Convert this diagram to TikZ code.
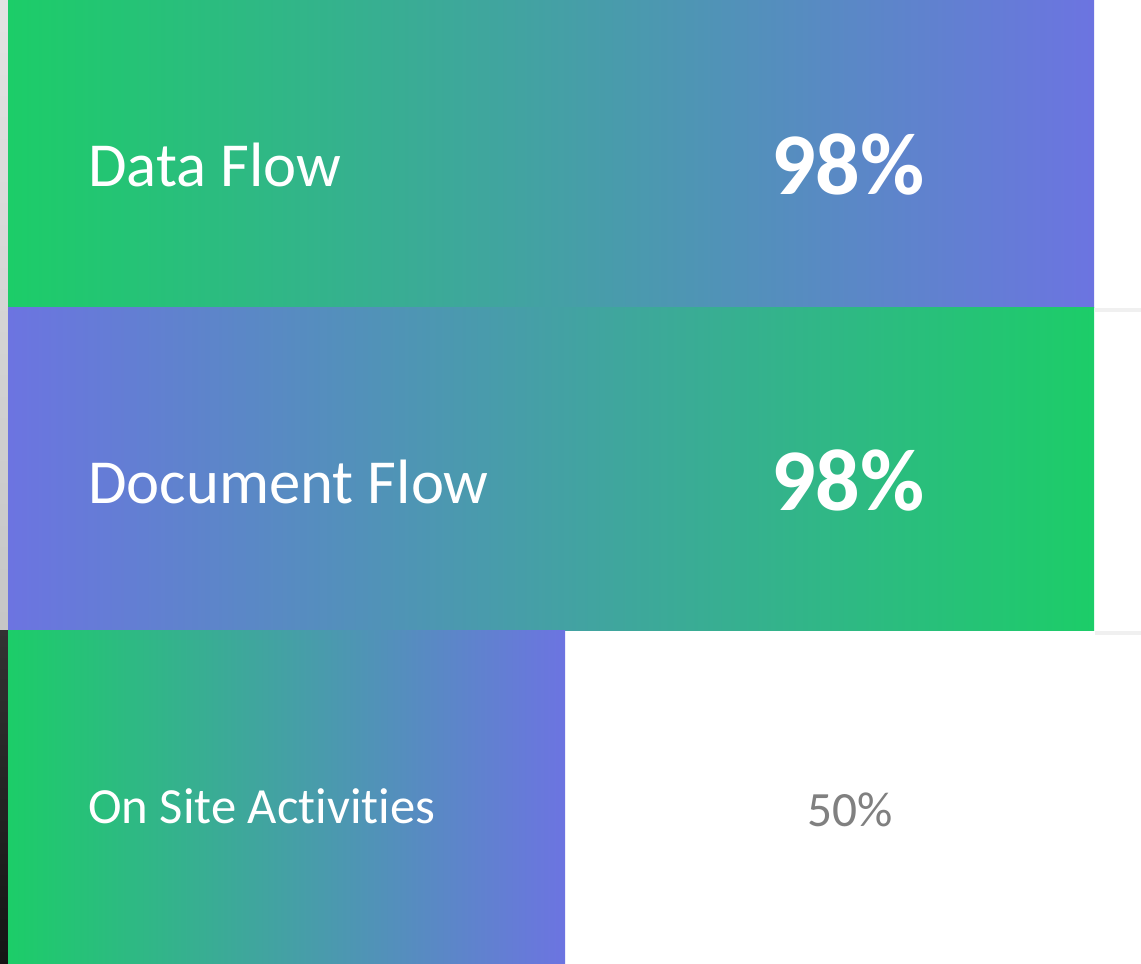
\documentclass[tikz,border=0pt]{standalone}
\usepackage{fontspec}
\setmainfont{Carlito}[Ligatures=NoCommon]
\usepackage{tikz}
\usetikzlibrary{positioning}
\definecolor{barGreen}{RGB}{28,205,104}
\definecolor{barPurple}{RGB}{108,116,225}
\definecolor{valueGray}{RGB}{128,128,128}

\begin{document}
\begin{tikzpicture}[x=0.75pt, y=-0.75pt]
		\tikzstyle{caption} = [anchor=west, text=white, inner sep=0pt, font=\fontsize{47}{52}\selectfont];
		\tikzstyle{value} = [text=white, inner sep=0pt, font=\fontsize{66}{72}\selectfont\bfseries];
		\useasboundingbox (0,0) rectangle (1141,963);
		\fill[white] (0,0) rectangle (1141,963);
		
		% blurred backdrop strip on the left
		\shade[top color=gray!22, bottom color=gray!45] (0,0) rectangle (8,630);
		\shade[top color=black!80, bottom color=black!92] (0,630) rectangle (8,963);
		
		% bars
		\shade[left color=barGreen, right color=barPurple] (8,0) rectangle (1094,307);
		\shade[left color=barPurple, right color=barGreen] (8,307) rectangle (1094,630);
		\shade[left color=barGreen, right color=barPurple] (8,630) rectangle (565,963);
		\fill[gray!12] (1095,308) rectangle (1141,312);
		\fill[gray!12] (1095,631) rectangle (1141,635);
		
		\node[caption](data flow) at (88,165){Data Flow};
		\node[value](data value) at (848,164){98\%};
		\node[caption](document flow) at (88,482){Document Flow};
		\node[value](document value) at (848,480){98\%};
		\node[caption, font=\fontsize{38}{44}\selectfont](on site) at (88,806){On Site Activities};
		\node[text=valueGray, inner sep=0pt, font=\fontsize{37}{42}\selectfont](on site value) at (850,810){50\%};
\end{tikzpicture}
\end{document}
